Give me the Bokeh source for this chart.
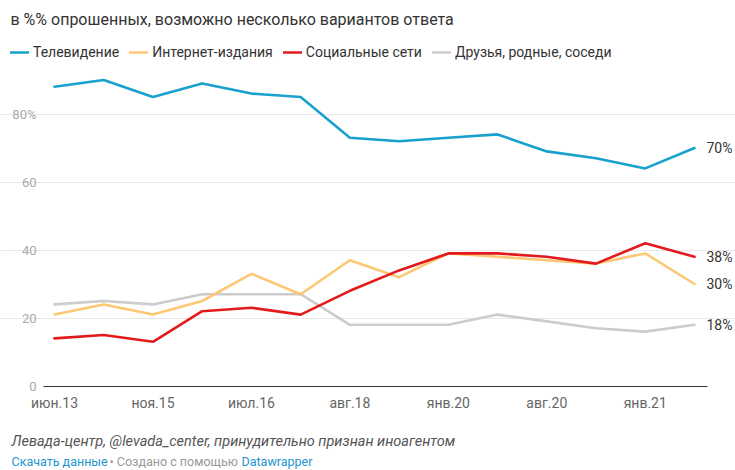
from bokeh.plotting import figure
from bokeh.models import Label, Legend, LegendItem, FixedTicker, Range1d
from bokeh.embed import file_html
from bokeh.resources import INLINE

# ---- data ----
periods = ["июн.13", "", "ноя.15", "", "июл.16", "", "авг.18", "", "янв.20", "", "авг.20", "", "янв.21", ""]
tv = [88, 90, 85, 89, 86, 85, 73, 72, 73, 74, 69, 67, 64, 70]
internet = [21, 24, 21, 25, 33, 27, 37, 32, 39, 38, 37, 36, 39, 30]
social = [14, 15, 13, 22, 23, 21, 28, 34, 39, 39, 38, 36, 42, 38]
friends = [24, 25, 24, 27, 27, 27, 18, 18, 18, 21, 19, 17, 16, 18]
series_names = ["Телевидение", "Интернет-издания", "Социальные сети", "Друзья, родные, соседи"]
y_ticks = [0, 20, 40, 60, 80]
title_text = "в %% опрошенных, возможно несколько вариантов ответа"
source_text = "Левада-центр, @levada_center, принудительно признан иноагентом"
footer_parts = ["Скачать данные", "• Создано с помощью", "Datawrapper"]

FONT = "Roboto"
colors = ["#18a1cd", "#fdc773", "#e31a1c", "#cccccc"]

W, H = 735, 470
n = len(tv)
PX = 49.23            # px per x step
X0 = 54               # px of first point from left of canvas
PY = 3.4              # px per percentage point
Y0 = 385.5            # px of zero line from top of canvas
pad_l = 11 / PX       # plot-area padding around the points (in x units)
pad_r = 13 / PX

x_start = -X0 / PX
x_end = x_start + W / PX
y_end = Y0 / PY
y_start = (Y0 - H) / PY

xs = list(range(n))

p = figure(width=W, height=H, output_backend="svg", toolbar_location=None,
           x_range=Range1d(x_start, x_end), y_range=Range1d(y_start, y_end),
           min_border=0, min_border_left=0, min_border_right=0,
           min_border_top=0, min_border_bottom=0)
p.outline_line_color = None
p.background_fill_color = "white"
p.border_fill_color = "white"

# x axis drawn at y=0, limited to the plot area
p.xaxis.fixed_location = 0
p.xaxis.bounds = (-pad_l, n - 1 + pad_r)
p.xaxis.ticker = FixedTicker(ticks=[i for i, s in enumerate(periods) if s])
p.xaxis.major_label_overrides = {i: s for i, s in enumerate(periods) if s}
p.xaxis.major_tick_line_color = None
p.xaxis.minor_tick_line_color = None
p.xaxis.major_tick_out = 0
p.xaxis.major_tick_in = 0
p.xaxis.axis_line_color = "#333333"
p.xaxis.axis_line_width = 1.2
p.xaxis.major_label_text_font = FONT
p.xaxis.major_label_text_font_size = "14px"
p.xaxis.major_label_text_color = "#666666"
p.xaxis.major_label_standoff = 9

# y axis drawn at the left edge of the plot area
p.yaxis.fixed_location = -pad_l
p.yaxis.ticker = FixedTicker(ticks=y_ticks)
p.yaxis.major_label_overrides = {t: (f"{t}%" if t == max(y_ticks) else str(t)) for t in y_ticks}
p.yaxis.axis_line_color = None
p.yaxis.major_tick_line_color = None
p.yaxis.minor_tick_line_color = None
p.yaxis.major_tick_out = 0
p.yaxis.major_tick_in = 0
p.yaxis.major_label_text_font = FONT
p.yaxis.major_label_text_font_size = "13px"
p.yaxis.major_label_text_color = "#aaaaaa"
p.yaxis.major_label_standoff = 7

p.xgrid.grid_line_color = None
p.ygrid.ticker = FixedTicker(ticks=y_ticks[1:])
p.ygrid.bounds = (-pad_l, n - 1 + pad_r)
p.ygrid.grid_line_color = "#e8e8e8"
p.ygrid.grid_line_width = 1

# lines (draw order: gray, orange, red, blue)
all_series = [tv, internet, social, friends]
renderers = [None] * 4
for idx in [3, 1, 2, 0]:
    renderers[idx] = p.line(xs, all_series[idx], line_color=colors[idx], line_width=2.6,
                            line_join="round", line_cap="round")

# end labels
for idx in range(4):
    vals = all_series[idx]
    p.add_layout(Label(x=xs[-1], y=vals[-1], text=f"{vals[-1]}%", x_offset=12,
                       text_baseline="middle", text_align="left",
                       text_font=FONT, text_font_size="14px", text_color="#333333"))

# legend
legend = Legend(items=[LegendItem(label=series_names[i], renderers=[renderers[i]]) for i in range(4)],
                orientation="horizontal", location=(10, H - 60),
                label_text_font=FONT, label_text_font_size="14px", label_text_color="#333333",
                glyph_width=19, glyph_height=16, label_height=16, label_standoff=4, spacing=10,
                padding=0, margin=0, border_line_color=None, background_fill_alpha=0)
p.add_layout(legend, "center")

# title
p.add_layout(Label(x=10, y=H - 19, x_units="screen", y_units="screen", text=title_text,
                   text_baseline="middle", text_font=FONT, text_font_size="16px",
                   text_color="#333333"))
# source line
p.add_layout(Label(x=11, y=H - 441, x_units="screen", y_units="screen", text=source_text,
                   text_baseline="middle", text_font=FONT, text_font_size="14.5px",
                   text_font_style="italic", text_color="#555555"))
# footer parts
fx = [11, 109, 241]
fcol = ["#2196cf", "#999999", "#2196cf"]
for t, x0, c in zip(footer_parts, fx, fcol):
    p.add_layout(Label(x=x0, y=H - 461, x_units="screen", y_units="screen", text=t,
                       text_baseline="middle", text_font=FONT, text_font_size="12.5px",
                       text_color=c))

open("out.html", "w").write(file_html(p, INLINE))
